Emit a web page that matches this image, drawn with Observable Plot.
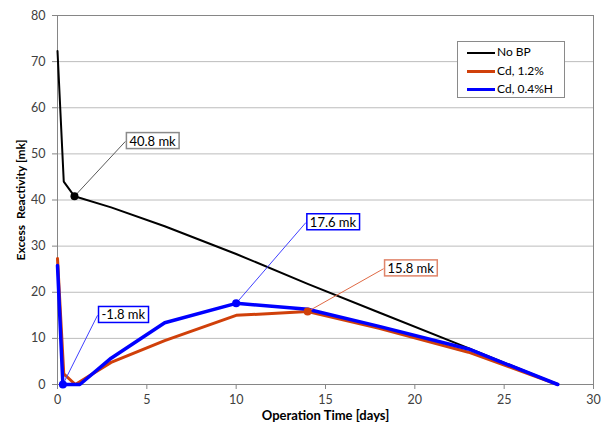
<!DOCTYPE html>
<html><head><meta charset="utf-8">
<script src="https://cdn.jsdelivr.net/npm/d3@7"></script>
<script src="https://cdn.jsdelivr.net/npm/@observablehq/plot@0.6"></script>
<style>
body{margin:0;background:#fff;}
#wrap{position:relative;width:605px;height:429px;font-family:Lato,"Open Sans",sans-serif;}
#wrap svg{font-family:Lato,"Open Sans",sans-serif;}
g[aria-label$="axis label"] text{font-weight:bold;font-size:13px;fill:#000;}
g[aria-label="y-axis label"] text{font-size:12px;}
g[aria-label$="tick label"] text{font-size:12.5px;fill:#404040;}
.legend{position:absolute;left:457px;top:41px;width:106px;height:55px;border:1.5px solid #8a8a8a;background:#fff;font-size:12px;}
.legend div{position:absolute;left:9px;height:14px;line-height:14px;white-space:nowrap;}
.legend span.sw{display:inline-block;width:28px;vertical-align:middle;margin-right:2px;}
</style></head><body><div id="wrap"></div>
<script>
// ---- data ----
const seriesNames = ["No BP", "Cd, 1.2%", "Cd, 0.4%H"];
const noBpDays   = [0, 0.35, 0.95, 3, 6, 10, 14, 18, 23, 28];
const noBpValues = [72.3, 44, 40.8, 38.4, 34.3, 28.3, 21.8, 15.6, 7.9, 0];
const cd12Days   = [0, 0.35, 1, 3, 6, 10, 14, 18, 23, 28];
const cd12Values = [27.3, 2.3, 0, 4.8, 9.5, 15, 15.8, 12.2, 7, 0];
const cd04Days   = [0, 0.3, 1.25, 3, 6, 10, 14, 18, 23, 28];
const cd04Values = [25.8, -1.8, 0, 5.7, 13.4, 17.6, 16.3, 12.6, 7.7, 0];
const xTicks = [0, 5, 10, 15, 20, 25, 30];
const yTicks = [0, 10, 20, 30, 40, 50, 60, 70, 80];
// callouts: series index, point index, label
const calloutSeries = [0, 2, 1, 2];
const calloutPoint  = [2, 5, 6, 1];
const calloutText   = ["40.8 mk", "17.6 mk", "15.8 mk", "-1.8 mk"];

// ---- layout / style ----
const colors = ["#000000", "#d0400a", "#0000ff"];
const widths = [2, 3, 3.5];
const calloutBoxAt = [[3.8, 52.7], [13.9, 35.1], [18.25, 25.1], [2.24, 15.0]];
const calloutLine = ["#595959", "#4040ff", "#e06a45", "#4040ff"];
const calloutBorder = ["#8a8a8a", "#0000ff", "#e0856a", "#0000ff"];

const daysArr = [noBpDays, cd12Days, cd04Days];
const valsArr = [noBpValues, cd12Values, cd04Values];
const rows = [];
seriesNames.forEach((s, i) => daysArr[i].forEach((d, j) => rows.push({series: s, si: i, day: d, value: valsArr[i][j]})));
const callouts = calloutText.map((t, k) => {
  const si = calloutSeries[k], pj = calloutPoint[k];
  return {k, text: t, si, x: daysArr[si][pj], y: valsArr[si][pj], bx: calloutBoxAt[k][0], by: calloutBoxAt[k][1]};
});

const chart = Plot.plot({
  width: 605, height: 429,
  marginLeft: 57, marginRight: 12, marginTop: 15, marginBottom: 45,
  x: {domain: [0, 30]},
  y: {domain: [0, 80], clamp: true},
  marks: [
    Plot.gridY(yTicks, {stroke: "#bcbcbc", strokeOpacity: 1}),
    Plot.frame({stroke: "#868686"}),
    Plot.axisY({ticks: yTicks, tickSize: 5, tickPadding: 7, stroke: "#868686", label: "Excess  Reactivity [mk]", labelAnchor: "center", labelArrow: "none", labelOffset: 41}),
    Plot.axisX({ticks: xTicks, tickSize: 5, tickPadding: 6, stroke: "#868686", label: "Operation Time [days]", labelAnchor: "center", labelArrow: "none", labelOffset: 35}),
    ...[0, 1, 2].map(i => Plot.line(rows.filter(r => r.si === i), {x: "day", y: "value", stroke: colors[i], strokeWidth: widths[i], strokeLinejoin: "round"})),
    Plot.link(callouts, {x1: "x", y1: "y", x2: "bx", y2: "by", stroke: d => calloutLine[d.k], strokeWidth: 1}),
    Plot.dot(callouts, {x: "x", y: "y", r: 4, fill: d => colors[d.si], stroke: "none"}),
    Plot.text(callouts, {x: "bx", y: "by", text: "text", textAnchor: "start", dx: 4, fontSize: 13, fill: "#000", className: "callout"})
  ]
});
document.getElementById("wrap").appendChild(chart);

// boxes behind callout labels
const svg = d3.select(chart);
svg.selectAll(".callout text").each(function(d, i) {
  const b = this.getBBox();
  const r = d3.select(this.parentNode).insert("rect", () => this)
    .attr("x", b.x - 3).attr("y", b.y)
    .attr("width", b.width + 6).attr("height", b.height)
    .attr("fill", "#fff").attr("stroke", calloutBorder[i]).attr("stroke-width", 1.5);
  const tr = this.getAttribute("transform");
  if (tr) r.attr("transform", tr);
});

// legend
const lg = document.createElement("div");
lg.className = "legend";
seriesNames.forEach((s, i) => {
  const e = document.createElement("div");
  e.style.top = (3 + i * 18.5) + "px";
  e.innerHTML = `<span class="sw" style="border-top:${widths[i] === 2 ? 2 : 3}px solid ${colors[i]}"></span>${s}`;
  lg.appendChild(e);
});
document.getElementById("wrap").appendChild(lg);
</script></body></html>
